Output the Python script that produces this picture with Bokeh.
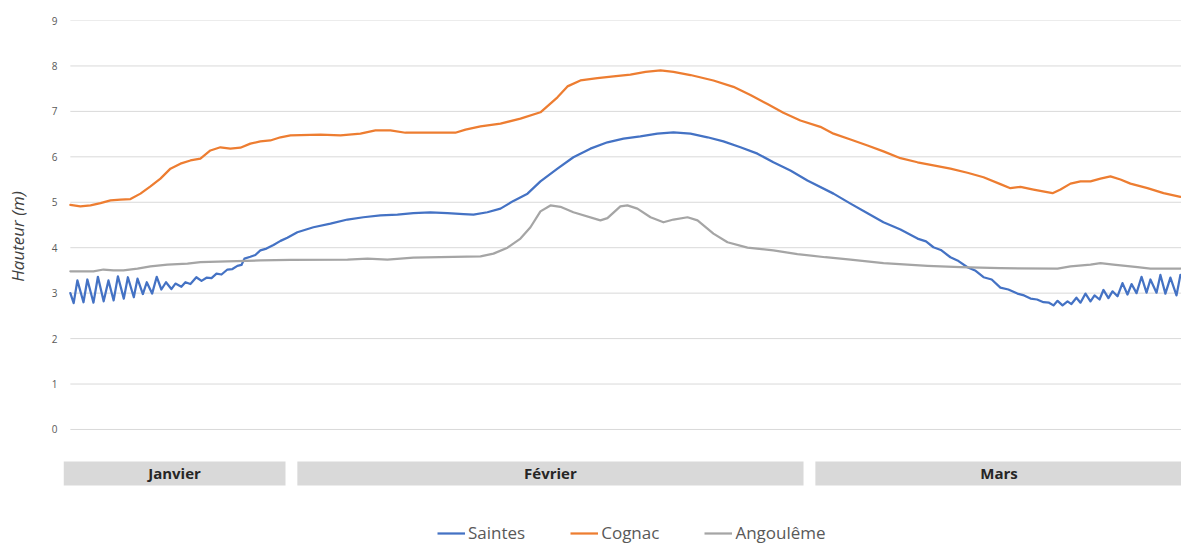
from bokeh.plotting import figure
from bokeh.layouts import column
from bokeh.models import (Range1d, FixedTicker, Legend, LegendItem, ColumnDataSource)
from bokeh.core.properties import value
from bokeh.embed import file_html
from bokeh.resources import INLINE

# ---------------- data (x = day of year, 0 = 1 January) ----------------
saintes_day = [19.05, 19.23, 19.43, 19.76, 19.97, 20.30, 20.54, 20.85, 21.11, 21.39,
               21.62, 21.94, 22.16, 22.48, 22.68, 22.97, 23.18, 23.47, 23.72, 23.97,
               24.22, 24.51, 24.73, 25.05, 25.27, 25.54, 25.86, 26.14, 26.41, 26.68,
               26.95, 27.22, 27.54, 27.81, 28.08, 28.30, 28.46, 28.78, 29.05, 29.32,
               29.65, 30.03, 30.41, 30.78, 31.32, 32.19, 33.11, 34.03, 34.89, 35.81,
               36.73, 37.59, 38.51, 39.43, 40.30, 40.84, 41.59, 42.30, 43.00, 43.76,
               44.46, 45.38, 46.24, 47.16, 48.08, 48.95, 49.86, 50.78, 51.65, 52.57,
               53.49, 54.35, 55.27, 56.19, 57.05, 57.97, 58.89, 60.30, 61.22, 62.14,
               63.00, 63.92, 64.84, 65.30, 65.70, 66.10, 66.62, 67.00, 67.54, 67.95,
               68.41, 68.85, 69.32, 69.75, 70.24, 70.60, 70.95, 71.30, 71.65, 71.95,
               72.19, 72.41, 72.68, 72.95, 73.16, 73.43, 73.65, 73.92, 74.19, 74.41,
               74.68, 74.89, 75.16, 75.38, 75.65, 75.92, 76.19, 76.41, 76.68, 76.95,
               77.22, 77.43, 77.76, 77.97, 78.24, 78.51, 78.84, 79.05]
saintes_m = [3.00, 2.78, 3.28, 2.80, 3.30, 2.79, 3.36, 2.82, 3.28, 2.84,
             3.37, 2.88, 3.35, 2.91, 3.32, 2.98, 3.24, 2.99, 3.36, 3.08,
             3.24, 3.09, 3.21, 3.14, 3.24, 3.20, 3.35, 3.27, 3.34, 3.33,
             3.43, 3.41, 3.52, 3.53, 3.60, 3.62, 3.76, 3.80, 3.84, 3.94,
             3.98, 4.06, 4.15, 4.22, 4.34, 4.45, 4.53, 4.62, 4.67, 4.71,
             4.73, 4.76, 4.78, 4.76, 4.74, 4.73, 4.78, 4.86, 5.03, 5.19,
             5.46, 5.74, 5.99, 6.18, 6.32, 6.40, 6.45, 6.51, 6.54, 6.51,
             6.43, 6.34, 6.21, 6.07, 5.88, 5.70, 5.48, 5.19, 4.97, 4.76,
             4.56, 4.40, 4.20, 4.14, 4.01, 3.95, 3.79, 3.72, 3.57, 3.50,
             3.35, 3.30, 3.12, 3.08, 2.99, 2.95, 2.88, 2.86, 2.80, 2.79,
             2.73, 2.83, 2.73, 2.82, 2.76, 2.90, 2.79, 2.99, 2.82, 2.95,
             2.86, 3.07, 2.89, 3.04, 2.93, 3.22, 2.97, 3.20, 3.00, 3.36,
             3.01, 3.30, 3.01, 3.40, 2.99, 3.34, 2.95, 3.40]

cognac_day = [19.05, 19.59, 20.14, 20.68, 21.22, 21.76, 22.30, 22.84, 23.38, 23.92,
              24.46, 25.00, 25.54, 26.08, 26.62, 27.16, 27.70, 28.24, 28.78, 29.32,
              29.86, 30.41, 30.95, 31.49, 32.57, 33.65, 34.73, 35.54, 36.35, 37.16,
              37.97, 39.05, 39.86, 40.41, 41.22, 42.30, 43.38, 44.46, 45.38, 45.92,
              46.62, 47.54, 48.41, 49.32, 50.14, 50.95, 51.65, 52.57, 53.81, 54.89,
              55.81, 56.73, 57.59, 58.51, 59.59, 60.30, 61.22, 62.14, 63.00, 63.92,
              64.84, 65.70, 66.62, 67.54, 68.41, 69.32, 69.86, 70.41, 71.11, 72.14,
              72.57, 73.11, 73.65, 74.19, 74.73, 75.27, 75.81, 76.35, 77.27, 78.14,
              79.05]
cognac_m = [4.94, 4.91, 4.93, 4.98, 5.04, 5.06, 5.07, 5.19, 5.35, 5.52,
            5.74, 5.85, 5.92, 5.96, 6.14, 6.21, 6.18, 6.20, 6.29, 6.34,
            6.36, 6.43, 6.47, 6.48, 6.49, 6.47, 6.51, 6.58, 6.58, 6.53,
            6.53, 6.53, 6.53, 6.60, 6.67, 6.73, 6.84, 6.98, 7.31, 7.55,
            7.68, 7.73, 7.77, 7.81, 7.87, 7.90, 7.87, 7.80, 7.68, 7.54,
            7.36, 7.16, 6.97, 6.80, 6.66, 6.51, 6.38, 6.25, 6.12, 5.97,
            5.88, 5.81, 5.74, 5.65, 5.55, 5.40, 5.31, 5.34, 5.28, 5.20,
            5.28, 5.41, 5.46, 5.46, 5.52, 5.57, 5.50, 5.41, 5.31, 5.20,
            5.12]

angouleme_day = [19.05, 20.30, 20.84, 21.38, 21.92, 22.68, 23.38, 24.30, 25.38, 26.08,
                 27.54, 29.32, 30.95, 34.03, 35.11, 36.19, 37.59, 39.76, 41.22, 41.92,
                 42.68, 43.38, 43.92, 44.46, 45.00, 45.54, 46.24, 47.70, 48.08, 48.78,
                 49.16, 49.70, 50.41, 51.11, 51.65, 52.41, 52.95, 53.81, 54.57, 55.65,
                 57.05, 58.35, 59.86, 61.22, 63.00, 65.38, 67.16, 69.32, 72.41, 73.11,
                 74.19, 74.73, 75.43, 76.73, 77.43, 79.05]
angouleme_m = [3.48, 3.48, 3.52, 3.50, 3.50, 3.54, 3.59, 3.63, 3.65, 3.68,
               3.70, 3.72, 3.73, 3.74, 3.76, 3.74, 3.78, 3.80, 3.81, 3.87,
               4.00, 4.20, 4.45, 4.80, 4.93, 4.90, 4.78, 4.60, 4.65, 4.91,
               4.93, 4.86, 4.67, 4.56, 4.62, 4.67, 4.60, 4.31, 4.12, 4.00,
               3.94, 3.86, 3.79, 3.74, 3.66, 3.60, 3.57, 3.55, 3.54, 3.59,
               3.63, 3.66, 3.63, 3.57, 3.54, 3.54]

months = ["Janvier", "Février", "Mars"]
month_start = [18.36, 31.0, 59.0]
month_end = [31.0, 59.0, 79.5]

y_ticks = [0, 1, 2, 3, 4, 5, 6, 7, 8, 9]

series_names = ["Saintes", "Cognac", "Angoulême"]
series_colors = ["#4472C4", "#ED7D31", "#A5A5A5"]

# ---------------- main chart ----------------
FONT = "Open Sans"
xr = Range1d(18.68, 79.11)
p = figure(width=1181, height=452, output_backend="svg", toolbar_location=None,
           x_range=xr, y_range=Range1d(-0.507, 9.0),
           min_border_left=63, min_border_right=0, min_border_top=20,
           min_border_bottom=0)
p.outline_line_color = None
p.border_fill_color = "white"
p.xaxis.visible = False
p.xgrid.visible = False
p.ygrid.visible = False

ax = p.yaxis[0]
ax.ticker = FixedTicker(ticks=y_ticks)
ax.axis_line_color = None
ax.major_tick_line_color = None
ax.minor_tick_line_color = None
ax.major_tick_out = 0
ax.major_tick_in = 0
ax.major_label_standoff = 6
ax.major_label_text_font = FONT
ax.major_label_text_font_size = "10px"
ax.major_label_text_color = "#595959"
ax.axis_label = "Hauteur (m)"
ax.axis_label_text_font = FONT
ax.axis_label_text_font_style = "italic"
ax.axis_label_text_font_size = "17px"
ax.axis_label_text_color = "#404040"
ax.axis_label_standoff = 20

# horizontal gridlines, starting where the data starts
gx0 = [saintes_day[0]] * len(y_ticks)
gx1 = [79.5] * len(y_ticks)
p.segment(x0=gx0, x1=gx1, y0=y_ticks, y1=y_ticks, line_color="#d9d9d9", line_width=1)

renderers = []
for d, v, c in zip([saintes_day, cognac_day, angouleme_day],
                   [saintes_m, cognac_m, angouleme_m], series_colors):
    r = p.line(d, v, line_color=c, line_width=2.25, line_join="round", line_cap="round")
    renderers.append(r)

# ---------------- month bands + legend ----------------
q = figure(width=1181, height=93, output_backend="svg", toolbar_location=None,
           x_range=xr, y_range=Range1d(-2.554, -0.507),
           min_border_left=63, min_border_right=0, min_border_top=0,
           min_border_bottom=0)
q.outline_line_color = None
q.border_fill_color = "white"
q.xaxis.visible = False
q.yaxis.visible = False
q.xgrid.visible = False
q.ygrid.visible = False

gap = 0.32
band_left = [s + gap for s in month_start]
band_right = [e - gap for e in month_end]
band_src = ColumnDataSource(dict(left=band_left, right=band_right,
                                 mid=[(a + b) / 2 for a, b in zip(band_left, band_right)],
                                 name=months))
q.quad(left="left", right="right", bottom=-1.232, top=-0.704, source=band_src,
       fill_color="#d9d9d9", line_color=None)
q.text(x="mid", y=-0.968, text="name", source=band_src, text_align="center",
       text_baseline="middle", text_font=value(FONT), text_font_style="bold",
       text_font_size="15px", text_color="#262626")

# legend entries (the lines are drawn in the lower panel only for the legend)
leg_r = []
for d, v, c in zip([saintes_day, cognac_day, angouleme_day],
                   [saintes_m, cognac_m, angouleme_m], series_colors):
    leg_r.append(q.line(d, v, line_color=c, line_width=2.25))
legend = Legend(items=[LegendItem(label=n, renderers=[r]) for n, r in zip(series_names, leg_r)],
                orientation="horizontal", location=(374, 1), padding=0, margin=0,
                spacing=45, glyph_width=28, glyph_height=18, label_height=18,
                label_standoff=3, label_text_font=FONT, label_text_font_size="17px",
                label_text_color="#595959", border_line_color=None,
                background_fill_alpha=0)
q.add_layout(legend)

layout = column(p, q, spacing=0)
open("out.html", "w").write(file_html(layout, INLINE))
